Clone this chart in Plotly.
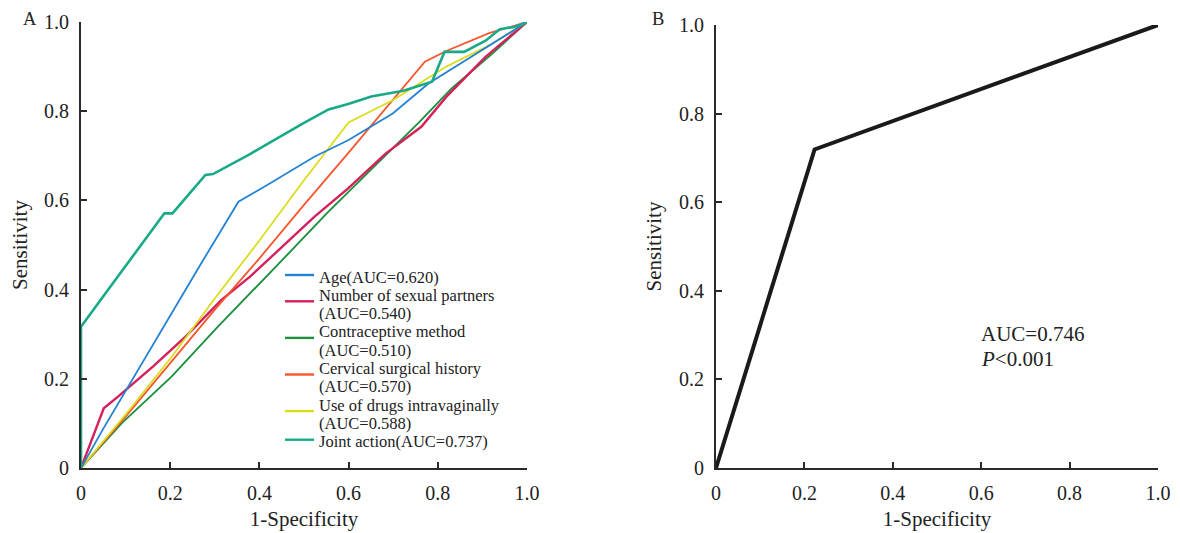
import plotly.graph_objects as go

# ---------------- data ----------------
age_x = [0, 0.051, 0.263, 0.353, 0.427, 0.523, 0.599, 0.699, 0.779, 0.851, 1.0]
age_y = [0, 0.090, 0.448, 0.597, 0.640, 0.698, 0.735, 0.795, 0.862, 0.907, 1.0]

sex_x = [0, 0.051, 0.083, 0.163, 0.235, 0.315, 0.379, 0.451, 0.523, 0.599, 0.683, 0.763, 0.819, 0.907, 1.0]
sex_y = [0, 0.134, 0.160, 0.229, 0.295, 0.377, 0.429, 0.496, 0.563, 0.627, 0.705, 0.765, 0.832, 0.922, 1.0]

con_x = [0, 0.091, 0.203, 0.307, 0.451, 0.551, 0.627, 0.759, 0.831, 0.923, 1.0]
con_y = [0, 0.100, 0.205, 0.317, 0.466, 0.571, 0.646, 0.776, 0.851, 0.930, 1.0]

cer_x = [0, 0.1, 0.2, 0.3, 0.4, 0.5, 0.6, 0.7, 0.771, 0.819, 0.915, 1.0]
cer_y = [0, 0.115, 0.235, 0.355, 0.470, 0.590, 0.707, 0.825, 0.911, 0.935, 0.975, 1.0]

drg_x = [0, 0.1, 0.2, 0.3, 0.4, 0.5, 0.6, 0.7, 0.819, 0.92, 1.0]
drg_y = [0, 0.12, 0.245, 0.38, 0.51, 0.645, 0.775, 0.825, 0.900, 0.95, 1.0]

jnt_x = [0, 0, 0.05, 0.10, 0.15, 0.187, 0.205, 0.279, 0.296, 0.379, 0.499, 0.555, 0.599,
         0.651, 0.723, 0.787, 0.815, 0.859, 0.907, 0.939, 0.971, 1.0]
jnt_y = [0, 0.317, 0.385, 0.452, 0.520, 0.571, 0.571, 0.657, 0.659, 0.704, 0.773, 0.804, 0.816,
         0.833, 0.846, 0.866, 0.933, 0.933, 0.958, 0.984, 0.989, 1.0]

comb_x = [0, 0.223, 1.0]
comb_y = [0, 0.719, 1.0]

series_names = [
    ["Age(AUC=0.620)"],
    ["Number of sexual partners", "(AUC=0.540)"],
    ["Contraceptive method", "(AUC=0.510)"],
    ["Cervical surgical history", "(AUC=0.570)"],
    ["Use of drugs intravaginally", "(AUC=0.588)"],
    ["Joint action(AUC=0.737)"],
]
series_colors = ["#2383d2", "#d5205a", "#1c9140", "#f5562e", "#dcdc1e", "#18aa88"]
series_widths = [1.8, 2.4, 1.9, 1.8, 1.8, 2.6]

tick_vals = [0, 0.2, 0.4, 0.6, 0.8, 1.0]
tick_text = ["0", "0.2", "0.4", "0.6", "0.8", "1.0"]

auc_lines = ["AUC=0.746", "<i>P</i><0.001"]

FONT = "Liberation Serif, Times New Roman, serif"
W, H = 1180, 533
OFF = 8  # page body margin: the figure is drawn 8px right/down of the page origin


def px(xp):
    return (xp - OFF) / W


def py(yp):
    return 1 - (yp - OFF) / H


fig = go.Figure()
xs = [age_x, sex_x, con_x, cer_x, drg_x, jnt_x]
ys = [age_y, sex_y, con_y, cer_y, drg_y, jnt_y]
for i in [2, 1, 3, 4, 0, 5]:
    fig.add_trace(go.Scatter(x=xs[i], y=ys[i], mode="lines", name=" ".join(series_names[i]),
                             line=dict(color=series_colors[i], width=series_widths[i]),
                             xaxis="x", yaxis="y", showlegend=False))

fig.add_trace(go.Scatter(x=comb_x, y=comb_y, mode="lines", showlegend=False,
                         line=dict(color="#1a1a1a", width=4), xaxis="x2", yaxis="y2"))

axis_common = dict(range=[0, 1], tickvals=tick_vals, ticktext=tick_text, automargin=False,
                   showgrid=False, zeroline=False, showline=True, linecolor="#2a2a2a",
                   linewidth=2, ticks="inside", ticklen=6, tickwidth=2, tickcolor="#2a2a2a",
                   tickfont=dict(family=FONT, size=20, color="#222"),
                   title_font=dict(family=FONT, size=21, color="#222"))

annotations = [
    dict(text="A", x=px(29.5), y=1, xref="paper", yref="paper", showarrow=False, borderpad=0,
         xanchor="center", yanchor="top", font=dict(family=FONT, size=18.5, color="#222")),
    dict(text="B", x=px(658), y=1, xref="paper", yref="paper", showarrow=False, borderpad=0,
         xanchor="center", yanchor="top", font=dict(family=FONT, size=18.5, color="#222")),
]
for t, yv in zip(auc_lines, [0.302, 0.246]):
    annotations.append(dict(text=t, x=0.595, y=yv, xref="x2", yref="y2", showarrow=False,
                            xanchor="left", yanchor="middle",
                            font=dict(family=FONT, size=21, color="#222")))

# manual legend (tight line spacing like the reference)
shapes = []
leg_x_line0, leg_x_line1, leg_x_text = 285, 314, 317
leg_y0, row_h = 277, 18.3
row = 0
for i, lines in enumerate(series_names):
    y_first = leg_y0 + row * row_h
    for j, t in enumerate(lines):
        annotations.append(dict(text=t, x=px(leg_x_text), y=py(y_first + j * row_h),
                                xref="paper", yref="paper", showarrow=False,
                                xanchor="left", yanchor="middle",
                                font=dict(family=FONT, size=16.5, color="#222")))
    sy = y_first + (6 if len(lines) > 1 else -2)
    shapes.append(dict(type="line", xref="paper", yref="paper",
                       x0=px(leg_x_line0), x1=px(leg_x_line1), y0=py(sy), y1=py(sy),
                       line=dict(color=series_colors[i], width=2.4)))
    row += len(lines)

fig.update_layout(
    width=W, height=H,
    margin=dict(l=0, r=0, t=0, b=0),
    paper_bgcolor="white", plot_bgcolor="white",
    font=dict(family=FONT, color="#222"),
    xaxis=dict(domain=[px(81), px(527)], anchor="y", title_text="1-Specificity",
               title_standoff=8, ticklabelstandoff=6, **axis_common),
    yaxis=dict(domain=[py(468), py(22)], anchor="x", title_text="Sensitivity",
               title_standoff=20, ticklabelstandoff=6, **axis_common),
    xaxis2=dict(domain=[px(716), px(1158)], anchor="y2", title_text="1-Specificity",
                title_standoff=8, ticklabelstandoff=6, **axis_common),
    yaxis2=dict(domain=[py(468), py(25)], anchor="x2", title_text="Sensitivity",
                title_standoff=12, ticklabelstandoff=6, **axis_common),
    showlegend=False,
    annotations=annotations,
    shapes=shapes,
)

fig.write_html("out.html")
